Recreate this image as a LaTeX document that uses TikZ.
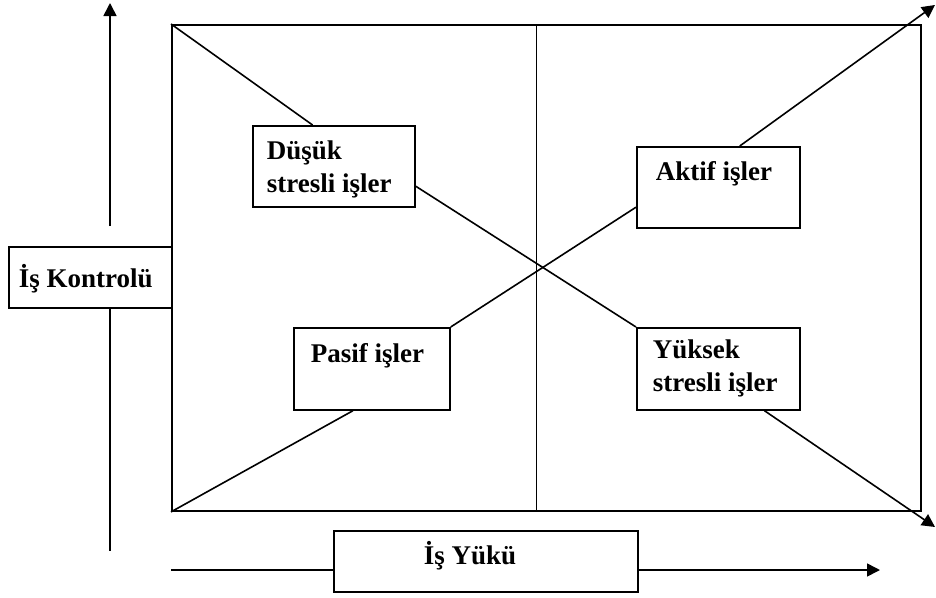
\documentclass[tikz,border=0pt]{standalone}
\usepackage{fontspec}
\setmainfont{Liberation Serif}
\usetikzlibrary{arrows.meta,calc}
\newcommand{\qtext}[5]{\parbox[c][#2pt][t]{#1pt}{\fontsize{27}{32.5}\selectfont\bfseries\raggedright\leftskip=#3pt\relax\rule{0pt}{#4pt}#5}}
\tikzset{
  ln/.style={line width=1.6pt},
  arr/.style={ln,-{Triangle[length=13pt,width=13pt]}},
  qbox/.style={draw,line width=1.7pt,fill=white,inner sep=0pt,anchor=north west}
}
\begin{document}
\begin{tikzpicture}[x=1pt,y=-1pt]
\useasboundingbox (0,0) rectangle (936,597);
% main frame
\node[draw,line width=1.9pt,inner sep=0pt,minimum width=749pt,minimum height=486pt,anchor=north west] (R) at (171,24) {};
\draw[ln] ($(R.north west)!0.487!(R.north east)$) -- ($(R.south west)!0.487!(R.south east)$);
% boxes
\node[qbox] (dusuk) at (252,125) {\qtext{162}{81}{14}{34}{Düşük\\stresli işler}};
\node[qbox] (aktif) at (636,146) {\qtext{163}{81}{19}{34}{Aktif işler}};
\node[qbox] (yuksek) at (636,327) {\qtext{163}{82}{16}{31}{Yüksek\\stresli işler}};
\node[qbox] (pasif) at (293,327) {\qtext{156}{82}{17}{35}{Pasif işler}};
\node[qbox] (kontrol) at (8,246) {\qtext{163}{61}{10}{41}{İş Kontrolü}};
\node[qbox] (yuk) at (333,530) {\qtext{304}{61}{90}{34}{İş Yükü}};
% diagonal segments
\coordinate (t1) at (935,527);
\coordinate (t2) at (935,5);
\draw[ln] (R.north west) -- ($(dusuk.north west)!0.37!(dusuk.north east)$);
\draw[ln] ($(dusuk.north east)!0.74!(dusuk.south east)$) -- (yuksek.north west);
\draw[arr] ($(yuksek.south west)!0.78!(yuksek.south east)$) -- (t1);
\draw[ln] (R.south west) -- ($(pasif.south west)!0.38!(pasif.south east)$);
\draw[ln] (pasif.north east) -- ($(aktif.north west)!0.74!(aktif.south west)$);
\draw[arr] ($(aktif.north west)!0.63!(aktif.north east)$) -- (t2);
% axes
\coordinate (vtop) at (110,3);
\coordinate (vmid) at (110,226);
\coordinate (vbot) at (110,551);
\draw[arr] (vmid) -- (vtop);
\draw[ln] (vbot |- kontrol.south) -- (vbot);
\coordinate (hstart) at (171,570);
\coordinate (hend) at (880,570);
\draw[ln] (hstart) -- (hstart -| yuk.west);
\draw[arr] (hstart -| yuk.east) -- (hend);
\end{tikzpicture}
\end{document}
